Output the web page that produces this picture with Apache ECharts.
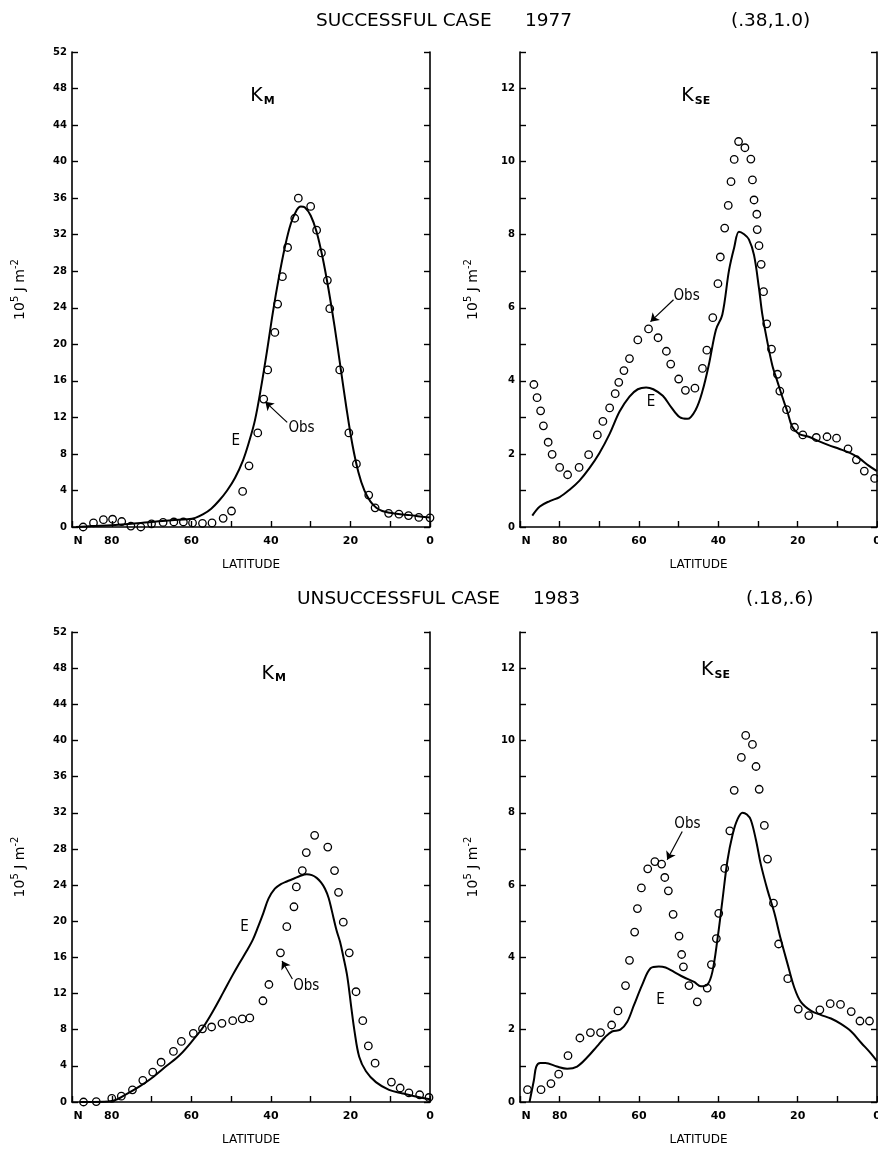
<!DOCTYPE html>
<html><head><meta charset="utf-8">
<script src="https://cdn.jsdelivr.net/npm/echarts@6/dist/echarts.min.js"></script>
<style>html,body{margin:0;padding:0;background:#fff}#c{width:878px;height:1150px}</style>
</head><body><div id="c"></div>
<script>
// ---------- DATA ----------
// Panel 1: K_M, successful case 1977
const obsLatKM77 = [87.2, 84.6, 82.1, 79.8, 77.5, 75.2, 72.7, 70.0, 67.1, 64.4, 62.0, 59.7, 57.2, 54.8, 52.0, 49.9, 47.1, 45.5, 43.3, 41.8, 40.8, 39.0, 38.3, 37.1, 35.8, 34.0, 33.1, 30.0, 28.5, 27.3, 25.8, 25.2, 22.7, 20.4, 18.5, 15.4, 13.8, 10.4, 7.8, 5.4, 2.8, 0.0];
const obsValKM77 = [0.0, 0.45, 0.8, 0.85, 0.6, 0.1, 0.0, 0.35, 0.5, 0.55, 0.55, 0.45, 0.4, 0.45, 0.95, 1.75, 3.9, 6.7, 10.3, 14.0, 17.2, 21.3, 24.4, 27.4, 30.6, 33.8, 36.0, 35.1, 32.5, 30.0, 27.0, 23.9, 17.2, 10.3, 6.9, 3.5, 2.1, 1.5, 1.4, 1.25, 1.05, 1.0];
const eLatKM77 = [89, 85, 80, 75, 70, 65, 61, 59, 57, 55, 53, 51, 49, 47, 45.5, 44, 42.5, 41, 39.5, 38, 36.5, 35, 33.5, 32.5, 31.5, 30, 28.5, 27, 25.5, 24, 22.5, 21, 19.5, 18, 16.5, 15, 13.5, 12, 10, 7.5, 5, 2.5, 0];
const eValKM77 = [0, 0.1, 0.2, 0.35, 0.55, 0.75, 0.85, 1.0, 1.4, 2.0, 2.9, 4.0, 5.4, 7.3, 9.3, 11.7, 15.2, 19.2, 23.5, 27.3, 30.6, 33.2, 34.7, 35.1, 35.0, 34.1, 32.3, 29.5, 26.0, 22.0, 17.5, 13.0, 9.0, 6.0, 4.0, 2.8, 2.1, 1.75, 1.55, 1.4, 1.3, 1.15, 1.05];

// Panel 2: K_SE, successful case 1977
const obsLatKSE77 = [86.5, 85.7, 84.8, 84.1, 82.9, 81.9, 80.0, 78.0, 75.1, 72.7, 70.5, 69.1, 67.4, 66.0, 65.1, 63.8, 62.4, 60.3, 57.6, 55.2, 53.1, 52.0, 50.0, 48.3, 45.9, 44.0, 42.9, 41.4, 40.1, 39.5, 38.4, 37.5, 36.8, 36.0, 34.9, 33.3, 31.8, 31.4, 31.0, 30.3, 30.2, 29.75, 29.2, 28.6, 27.8, 26.6, 25.1, 24.5, 22.8, 20.8, 18.7, 15.3, 12.6, 10.2, 7.3, 5.2, 3.2, 0.6];
const obsValKSE77 = [3.9, 3.54, 3.18, 2.77, 2.32, 1.99, 1.63, 1.43, 1.63, 1.98, 2.52, 2.89, 3.26, 3.65, 3.96, 4.28, 4.61, 5.12, 5.42, 5.18, 4.81, 4.46, 4.05, 3.74, 3.8, 4.34, 4.84, 5.73, 6.66, 7.39, 8.18, 8.8, 9.45, 10.06, 10.55, 10.38, 10.07, 9.5, 8.95, 8.56, 8.14, 7.7, 7.19, 6.44, 5.56, 4.87, 4.18, 3.72, 3.21, 2.73, 2.52, 2.45, 2.47, 2.43, 2.14, 1.84, 1.53, 1.33];
const eLatKSE77 = [86.9, 85, 82.5, 80, 77.5, 75, 72.5, 70, 67.4, 64.9, 62.4, 60.3, 58.2, 56.4, 54, 51.9, 49.8, 47.8, 45.7, 44, 42.3, 40.6, 39, 37.3, 36, 34.8, 33.5, 32.3, 31, 29.75, 28.9, 27.7, 26.4, 25.1, 23.9, 22.6, 21.4, 19.7, 17.2, 14.7, 12.2, 9.6, 7.1, 4.6, 2.1, 0];
const eValKSE77 = [0.31, 0.56, 0.71, 0.82, 1.02, 1.27, 1.61, 2.02, 2.55, 3.16, 3.57, 3.77, 3.82, 3.77, 3.59, 3.28, 3.01, 2.96, 3.21, 3.72, 4.49, 5.4, 5.81, 7.03, 7.65, 8.08, 8.01, 7.87, 7.44, 6.53, 5.81, 5.1, 4.43, 3.98, 3.57, 3.16, 2.75, 2.55, 2.47, 2.35, 2.24, 2.14, 2.04, 1.89, 1.68, 1.53];

// Panel 3: K_M, unsuccessful case 1983
const obsLatKM83 = [87.1, 83.9, 80.0, 77.6, 74.8, 72.2, 69.7, 67.6, 64.5, 62.5, 59.5, 57.2, 54.9, 52.3, 49.6, 47.2, 45.3, 42.0, 40.5, 37.6, 36.0, 34.2, 33.6, 32.1, 31.1, 29.0, 25.7, 24.0, 23.0, 21.8, 20.3, 18.6, 16.9, 15.5, 13.8, 9.7, 7.5, 5.3, 2.6, 0.25];
const obsValKM83 = [0.0, 0.05, 0.4, 0.65, 1.35, 2.4, 3.3, 4.4, 5.6, 6.7, 7.6, 8.1, 8.3, 8.7, 9.0, 9.2, 9.3, 11.2, 13.0, 16.5, 19.4, 21.6, 23.8, 25.6, 27.6, 29.5, 28.2, 25.6, 23.2, 19.9, 16.5, 12.2, 9.0, 6.2, 4.3, 2.2, 1.55, 1.0, 0.8, 0.5];
const eLatKM83 = [88, 84.5, 80, 76.2, 72.9, 69.5, 66.2, 62.9, 59.5, 57, 54.5, 52, 49.8, 48, 46.1, 44.5, 43.2, 41.9, 40.6, 39.0, 37.5, 36.0, 34.3, 32.7, 31.0, 29.7, 28.5, 27.4, 26.4, 25.5, 24.7, 23.5, 22.6, 21.8, 20.8, 19.8, 19.0, 17.8, 16.1, 13.6, 10.3, 6.9, 3.6, 0];
const eValKM83 = [0, 0, 0.1, 0.9, 1.75, 2.8, 4.0, 5.2, 6.9, 8.3, 10.1, 12.1, 13.9, 15.3, 16.7, 18.0, 19.4, 20.9, 22.5, 23.6, 24.1, 24.4, 24.7, 25.0, 25.2, 25.1, 24.8, 24.3, 23.6, 22.6, 21.2, 19.0, 17.7, 16.1, 13.9, 10.5, 7.9, 5.0, 3.4, 2.2, 1.35, 0.95, 0.6, 0.3];

// Panel 4: K_SE, unsuccessful case 1983
const obsLatKSE83 = [88.1, 84.7, 82.2, 80.25, 77.9, 74.9, 72.25, 69.7, 66.9, 65.3, 63.4, 62.4, 61.1, 60.4, 59.4, 57.8, 56.0, 54.3, 53.5, 52.6, 51.4, 49.9, 49.25, 48.8, 47.4, 45.3, 42.8, 41.75, 40.5, 39.9, 38.4, 37.1, 36.0, 34.2, 33.1, 31.4, 30.5, 29.7, 28.4, 27.6, 26.1, 24.8, 22.5, 19.85, 17.2, 14.4, 11.8, 9.2, 6.5, 4.3, 1.9];
const obsValKSE83 = [0.34, 0.34, 0.51, 0.77, 1.28, 1.77, 1.92, 1.92, 2.13, 2.52, 3.22, 3.92, 4.7, 5.35, 5.92, 6.45, 6.65, 6.58, 6.21, 5.84, 5.19, 4.59, 4.08, 3.74, 3.22, 2.77, 3.15, 3.8, 4.52, 5.22, 6.46, 7.5, 8.62, 9.53, 10.14, 9.89, 9.28, 8.65, 7.65, 6.72, 5.5, 4.37, 3.41, 2.57, 2.39, 2.55, 2.72, 2.7, 2.5, 2.24, 2.24];
const eLatKSE83 = [87.6, 86.5, 85.9, 84.9, 83.6, 80.7, 78.1, 75.6, 73.1, 70.6, 68.5, 66.8, 64.7, 63, 61.3, 59.2, 57.1, 55, 53.3, 51.2, 48.7, 46.1, 44.4, 42.8, 41.5, 40.2, 39, 37.7, 36.4, 35.2, 33.9, 32.8, 31.8, 30.5, 29.3, 27.6, 25.9, 24.3, 22.5, 20.9, 19.2, 16.6, 14.2, 11.6, 9.1, 6.5, 4.0, 1.5, 0];
const eValKSE83 = [0, 0.6, 0.98, 1.08, 1.08, 0.98, 0.92, 0.98, 1.23, 1.54, 1.80, 1.95, 2.0, 2.21, 2.67, 3.24, 3.70, 3.75, 3.72, 3.6, 3.45, 3.32, 3.2, 3.24, 3.6, 4.52, 5.55, 6.68, 7.4, 7.81, 8.0, 7.95, 7.8, 7.24, 6.58, 5.86, 5.24, 4.52, 3.8, 3.18, 2.77, 2.52, 2.41, 2.31, 2.16, 1.95, 1.64, 1.34, 1.13];

// Tick labels / texts
const latTickLabels = {90: '{n|N}', 80: '80', 60: '60', 40: '40', 20: '20', 0: '0'};
const panelNames = ['{k|K}{sub|M}', '{k|K}{sub|SE}', '{k|K}{sub|M}', '{k|K}{sub|SE}'];
const titleTexts = ['SUCCESSFUL CASE', '1977', '(.38,1.0)', 'UNSUCCESSFUL CASE', '1983', '(.18,.6)'];
// annotation anchor points in data units [lat, value]
const panelNamePos = [[42.1, 47.2], [45.7, 11.8], [39.3, 47.4], [40.7, 11.95]];
const eTextPos = [[48.8, 9.4], [57.0, 3.42], [46.6, 19.3], [54.6, 2.83]];
const obsTextPos = [[32.3, 10.85], [48.0, 6.32], [31.1, 12.8], [47.8, 7.7]];
const arrowFrom = [[35.9, 11.45], [51.3, 6.22], [34.6, 13.6], [49.1, 7.48]];
const arrowTo = [[41.4, 13.7], [57.1, 5.62], [37.2, 15.6], [52.9, 6.7]];
const arrowCurve = [0, 0.25, 0, -0.3];

// ---------- CHART ----------
const F = '"DejaVu Sans", sans-serif';
const NARROW = '"Liberation Sans Narrow", "DejaVu Sans Condensed", "Liberation Sans", sans-serif';
const zip = (a, b) => a.map((v, i) => [v, b[i]]);

const grids = [
  {left: 72, top: 52, width: 358, height: 475},
  {left: 520, top: 52, width: 357, height: 475},
  {left: 72, top: 632, width: 358, height: 470},
  {left: 520, top: 632, width: 357, height: 470}
].map(g => Object.assign({containLabel: false, outerBoundsMode: 'none', show: false}, g));

const yMax = [52, 13, 52, 13];
const yInt = [4, 1, 4, 1];
const yNameGap = [44, 39, 44, 39];

const axisLine = {show: true, onZero: false, lineStyle: {color: '#000', width: 1.6}};
const axisTick = {show: true, inside: true, length: 6, lineStyle: {color: '#000', width: 1.4}};

const xAxes = grids.map((g, i) => ({
  gridIndex: i, type: 'value', min: 0, max: 90, interval: 10, inverse: true,
  axisLine, axisTick, splitLine: {show: false},
  axisLabel: {
    formatter: v => latTickLabels[v] || '', color: '#000', fontWeight: 'bold', fontSize: 11, fontFamily: F, margin: 9,
    rich: {n: {color: '#000', fontWeight: 'bold', fontSize: 11, fontFamily: F, padding: [0, 0, 0, 12]}}
  },
  name: 'LATITUDE', nameLocation: 'middle', nameGap: 32,
  nameTextStyle: {color: '#000', fontSize: 12, fontFamily: F}
}));

const yAxes = [];
grids.forEach((g, i) => {
  yAxes.push({
    gridIndex: i, type: 'value', min: 0, max: yMax[i], interval: yInt[i], position: 'left',
    axisLine, axisTick, splitLine: {show: false},
    axisLabel: {
      formatter: v => (yMax[i] === 13 ? (v % 2 === 0 && v <= 12 ? String(v) : '') : String(v)),
      color: '#000', fontWeight: 'bold', fontSize: 10, fontFamily: F, margin: 5
    },
    name: '{b|10}{s|5}{b| J m}{s|-2}', nameLocation: 'middle', nameGap: yNameGap[i], nameRotate: 90,
    nameTextStyle: {
      color: '#000', fontFamily: F,
      rich: {
        b: {fontSize: 14, color: '#000', fontFamily: F, lineHeight: 16},
        s: {fontSize: 10, color: '#000', fontFamily: F, lineHeight: 11, padding: [0, 0, 9, 0]}
      }
    }
  });
  yAxes.push({
    gridIndex: i, type: 'value', min: 0, max: yMax[i], interval: yInt[i], position: 'right',
    axisLine, axisTick, splitLine: {show: false}, axisLabel: {show: false}
  });
});

const obsSets = [zip(obsLatKM77, obsValKM77), zip(obsLatKSE77, obsValKSE77), zip(obsLatKM83, obsValKM83), zip(obsLatKSE83, obsValKSE83)];
const eSets = [zip(eLatKM77, eValKM77), zip(eLatKSE77, eValKSE77), zip(eLatKM83, eValKM83), zip(eLatKSE83, eValKSE83)];

const textPoint = (coord, text, style) => ({
  coord, value: text, symbol: 'circle', symbolSize: 1, itemStyle: {color: 'rgba(0,0,0,0)'},
  label: Object.assign({show: true, position: 'inside', formatter: text, color: '#000'}, style)
});

const series = [];
grids.forEach((g, i) => {
  series.push({
    type: 'line', name: 'E', xAxisIndex: i, yAxisIndex: 2 * i, data: eSets[i],
    showSymbol: false, smooth: 0.35, lineStyle: {color: '#000', width: 2}, z: 2,
    markPoint: {
      silent: true, animation: false,
      data: [
        textPoint(panelNamePos[i], panelNames[i], {
          rich: {
            k: {fontSize: 19, color: '#000', fontFamily: F, lineHeight: 22},
            sub: {fontSize: 11, color: '#000', fontFamily: F, fontWeight: 'bold', lineHeight: 12, padding: [10, 0, 0, 1]}
          }
        }),
        textPoint(eTextPos[i], 'E', {fontSize: 15, fontFamily: NARROW}),
        textPoint(obsTextPos[i], 'Obs', {fontSize: 15, fontFamily: NARROW})
      ]
    },
    markLine: {
      silent: true, animation: false, symbol: ['none', 'arrow'], symbolSize: 8,
      label: {show: false},
      lineStyle: {color: '#000', width: 1.2, type: 'solid', curveness: arrowCurve[i]},
      data: [[{coord: arrowFrom[i]}, {coord: arrowTo[i]}]]
    }
  });
  series.push({
    type: 'scatter', name: 'Obs', xAxisIndex: i, yAxisIndex: 2 * i, data: obsSets[i],
    symbol: 'circle', symbolSize: 7.5, z: 3,
    itemStyle: {color: 'rgba(255,255,255,0)', borderColor: '#000', borderWidth: 1.3, opacity: 1}
  });
});

const titleStyle = {color: '#000', fontSize: 18.5, fontWeight: 'normal', fontFamily: F};
const option = {
  backgroundColor: '#fff',
  animation: false,
  title: [
    {text: titleTexts[0], left: 316, top: 12, textStyle: titleStyle, padding: 0},
    {text: titleTexts[1], left: 525, top: 12, textStyle: titleStyle, padding: 0},
    {text: titleTexts[2], left: 731, top: 12, textStyle: titleStyle, padding: 0},
    {text: titleTexts[3], left: 297, top: 590, textStyle: titleStyle, padding: 0},
    {text: titleTexts[4], left: 533, top: 590, textStyle: titleStyle, padding: 0},
    {text: titleTexts[5], left: 746, top: 590, textStyle: titleStyle, padding: 0}
  ],
  grid: grids,
  xAxis: xAxes,
  yAxis: yAxes,
  series
};

const chart = echarts.init(document.getElementById('c'), null, {renderer: 'canvas'});
chart.setOption(option);
</script></body></html>
